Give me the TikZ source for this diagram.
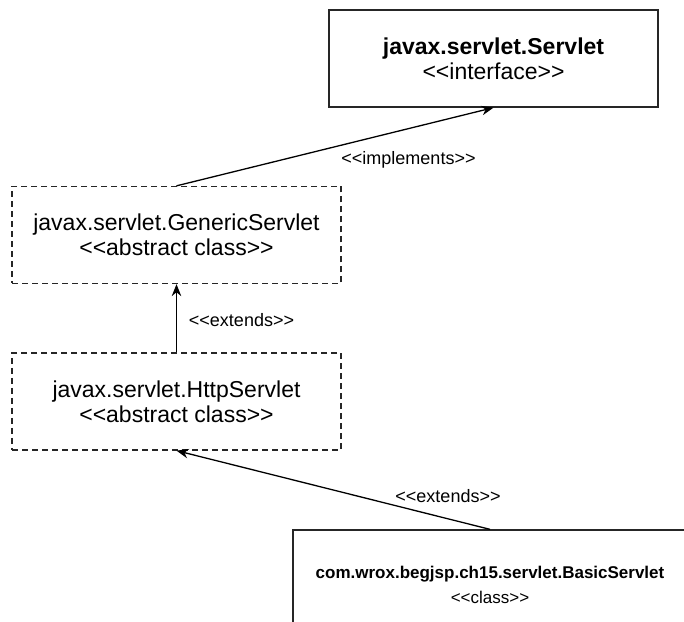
\documentclass[tikz,border=0pt]{standalone}
\usepackage{fontspec}
\setmainfont{Liberation Sans}
\usetikzlibrary{arrows.meta}
\newcommand{\dlt}{<\kern0pt<}
\newcommand{\dgt}{>\kern0pt>}
\begin{document}
\begin{tikzpicture}[x=1pt,y=1pt,
  box/.style={draw=black!85, line width=1.3pt, minimum width=329pt, minimum height=97pt,
    inner sep=0pt, align=center, font=\fontsize{23}{25}\selectfont},
  absbox/.style={box, dash pattern=on 6pt off 4pt},
  lbl/.style={font=\fontsize{18}{20}\selectfont, inner sep=0pt},
  arr/.style={draw=black, line width=1.3pt, -{Stealth[length=12pt,width=9.5pt]}}]
\clip (0,0) rectangle (684,621);
\fill[white] (0,0) rectangle (684,621);
\node[box] (servlet) at (493.5,562.5) {\textbf{javax.servlet.Servlet}\\\dlt interface\dgt};
\node[absbox] (generic) at (176.5,386) {javax.servlet.GenericServlet\\\dlt abstract class\dgt};
\node[absbox] (http) at (176.5,219.5) {javax.servlet.HttpServlet\\\dlt abstract class\dgt};
\node[box, minimum width=394pt, minimum height=110pt, font=\fontsize{17}{25}\selectfont] (basic) at (490,36)
  {\textbf{com.wrox.begjsp.ch15.servlet.BasicServlet}\\\dlt class\dgt};
\draw[arr] (generic.north) -- (servlet.south);
\draw[arr] (http.north) -- (generic.south);
\draw[arr] (basic.north) -- (http.south);
\node[lbl] (limpl) at (408.5,461) {\dlt implements\dgt};
\node[lbl] (lext1) at (241.5,301) {\dlt extends\dgt};
\node[lbl] (lext2) at (448,125) {\dlt extends\dgt};
\end{tikzpicture}
\end{document}
